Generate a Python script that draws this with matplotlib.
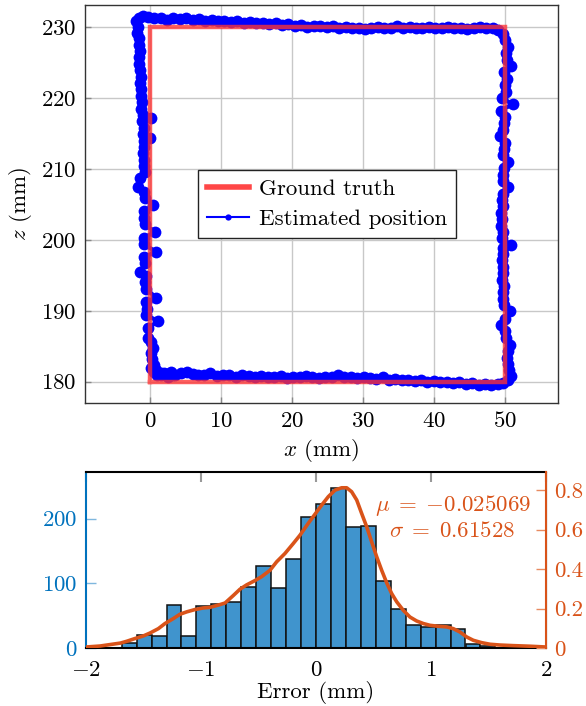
import numpy as np
import matplotlib
matplotlib.use("Agg")
import matplotlib.pyplot as plt

plt.rcParams['font.family'] = 'serif'
plt.rcParams['font.serif'] = ['cmr10']
plt.rcParams['mathtext.fontset'] = 'cm'
plt.rcParams['axes.formatter.use_mathtext'] = True
plt.rcParams['font.size'] = 16.5

# ---------------- data ----------------
gt_x = [0, 50, 50, 0, 0]
gt_z = [180, 180, 230, 230, 180]

bottom_x = [0.2, 0.6, 1.0, 1.6, 2.2, 2.9, 3.6, 4.4, 5.2, 6.0, 6.8, 7.6, 8.5, 9.4, 10.3, 11.2, 12.1, 13.0, 13.9, 14.8,
            15.7, 16.6, 17.5, 18.4, 19.3, 20.2, 21.1, 22.0, 22.9, 23.8, 24.7, 25.6, 26.5, 27.4, 28.3, 29.2, 30.1, 31.0, 31.9, 32.8,
            33.7, 34.6, 35.5, 36.4, 37.3, 38.2, 39.1, 40.0, 40.9, 41.8, 42.7, 43.6, 44.5, 45.4, 46.3, 47.2, 48.1, 49.0, 49.8, 50.5]
bottom_z = [181.9, 181.4, 181.0, 181.2, 181.1, 181.3, 181.0, 181.2, 181.4, 181.1, 181.0, 180.9, 181.2, 180.8, 181.0, 180.9, 180.7, 180.9, 180.8, 180.6,
            180.8, 180.7, 180.6, 180.8, 180.5, 180.7, 180.6, 180.8, 180.6, 180.5, 180.7, 180.6, 180.9, 180.7, 180.6, 180.5, 180.7, 180.5, 180.4, 180.6,
            180.3, 180.4, 180.2, 180.3, 180.1, 180.2, 180.0, 180.1, 179.9, 180.0, 179.8, 179.9, 179.7, 179.8, 179.6, 179.7, 179.6, 179.7, 179.8, 180.2]

right_x = [50.9, 50.6, 50.5, 50.3, 50.4, 50.7, 50.2, 50.1, 49.4, 50.0, 50.7, 49.9, 49.8, 49.7, 49.9, 49.6, 49.7, 49.8, 49.6, 49.7,
           49.8, 50.9, 49.6, 49.7, 49.5, 49.6, 49.5, 49.7, 49.6, 49.8, 50.4, 49.7, 49.8, 49.9, 50.4, 49.8, 49.9, 50.0, 49.3, 49.8,
           49.9, 50.0, 49.4, 51.1, 49.6, 50.2, 50.0, 50.3, 49.9, 50.9, 50.3, 50.2, 50.4, 50.0, 49.7, 49.0]
right_z = [180.8, 181.6, 182.5, 183.4, 184.3, 185.2, 186.2, 187.1, 188.0, 188.9, 189.9, 190.8, 191.7, 192.6, 193.5, 194.4, 195.3, 196.2, 197.1, 198.0,
           198.9, 199.3, 200.2, 201.1, 202.0, 202.9, 203.8, 204.7, 205.6, 206.5, 207.4, 208.3, 209.2, 210.1, 211.0, 211.9, 212.8, 213.7, 214.6, 215.5,
           216.4, 217.3, 218.2, 219.1, 220.0, 220.9, 221.8, 222.7, 223.6, 224.5, 225.4, 226.3, 227.2, 228.1, 229.0, 229.6]

top_x = [48.3, 47.4, 46.5, 45.6, 44.7, 43.8, 42.9, 42.0, 41.1, 40.2, 39.3, 38.4, 37.5, 36.6, 35.7, 34.8, 33.9, 33.0, 32.1, 31.2,
         30.3, 29.4, 28.5, 27.6, 26.7, 25.8, 24.9, 24.0, 23.1, 22.2, 21.3, 20.4, 19.5, 18.6, 17.7, 16.8, 15.9, 15.0, 14.1, 13.2,
         12.3, 11.4, 10.5, 9.6, 8.7, 7.8, 6.9, 6.0, 5.1, 4.2, 3.3, 2.4, 1.5, 0.6, -0.3, -1.0, -1.6]
top_z = [229.9, 229.8, 230.0, 229.8, 229.7, 229.9, 229.8, 230.0, 229.9, 229.8, 230.0, 229.9, 229.8, 230.0, 229.9, 230.1, 229.9, 229.8, 230.0, 229.9,
         229.7, 229.9, 229.8, 230.0, 229.9, 230.1, 230.0, 230.1, 230.2, 230.0, 230.3, 230.2, 230.4, 230.3, 230.5, 230.4, 230.6, 230.5, 230.7, 230.6,
         230.8, 230.7, 230.9, 230.8, 231.0, 230.9, 231.1, 231.0, 231.2, 231.1, 231.2, 231.0, 231.3, 231.2, 231.4, 231.5, 231.3]

left_x = [-1.9, -1.7, -1.8, -1.5, -1.6, -1.4, -1.6, -1.5, -1.4, -1.3, -1.4, -1.2, -1.3, -1.1, -1.2, -1.0, 0.1, -1.1, -0.9, -1.0,
          0.0, -0.8, -0.9, -1.0, -0.8, -0.9, -0.7, -1.4, -1.7, -0.8, -0.7, 0.5, -0.9, -0.8, -0.7, 0.7, -0.8, -0.9, 0.9, -0.8,
          -0.7, -1.4, -0.6, -0.7, -0.5, 0.9, -0.6, -0.4, -0.5, 1.2, -0.3, -0.3, 0.2, 0.5, 0.1, 0.3, 0.6, 0.9, 1.5, 2.5,
          3.2, 2.0]
left_z = [230.8, 230.0, 229.2, 228.4, 227.5, 226.6, 225.7, 224.8, 223.9, 223.0, 222.1, 221.2, 220.3, 219.4, 218.5, 217.6, 217.2, 216.7, 215.8, 214.9,
          214.4, 214.0, 213.1, 212.2, 211.3, 210.4, 209.5, 208.7, 207.5, 206.8, 205.9, 204.9, 204.0, 203.1, 202.2, 201.1, 200.3, 199.4, 198.3, 197.6,
          196.7, 195.5, 194.9, 194.0, 193.1, 191.8, 191.2, 190.3, 189.4, 188.5, 187.6, 186.2, 185.6, 184.8, 184.0, 183.2, 182.4, 181.6, 181.0, 180.7,
          180.9, 181.2]

est_x = bottom_x + right_x + top_x + left_x
est_z = bottom_z + right_z + top_z + left_z

# histogram of the error
bin_width = 0.13
bin_left = [-1.69, -1.56, -1.43, -1.30, -1.17, -1.04, -0.91, -0.78, -0.65, -0.52, -0.39, -0.26, -0.13,
            0.00, 0.13, 0.26, 0.39, 0.52, 0.65, 0.78, 0.91, 1.04, 1.17, 1.30, 1.43]
counts = [7, 20, 19, 66, 18, 65, 68, 71, 94, 126, 93, 138, 202,
          223, 248, 187, 188, 104, 61, 35, 33, 36, 30, 6, 3]

kde_x = [-2.0, -1.878, -1.70, -1.646, -1.574, -1.502, -1.443, -1.371, -1.313, -1.241, -1.183, -1.125, -1.052,
         -0.98, -0.922, -0.835, -0.791, -0.719, -0.661, -0.603, -0.53, -0.472, -0.4, -0.342, -0.27, -0.197,
         -0.139, -0.067, -0.009, 0.049, 0.107, 0.165, 0.223, 0.267, 0.31, 0.354, 0.397, 0.441, 0.484, 0.528,
         0.571, 0.615, 0.658, 0.702, 0.759, 0.817, 0.875, 0.933, 0.991, 1.064, 1.136, 1.194, 1.252, 1.31,
         1.368, 1.441, 1.513, 1.6, 1.716, 1.861, 2.0]
kde_y = [0.005, 0.010, 0.025, 0.034, 0.048, 0.061, 0.076, 0.098, 0.124, 0.149, 0.171, 0.183, 0.195,
         0.203, 0.206, 0.220, 0.228, 0.266, 0.298, 0.320, 0.342, 0.362, 0.394, 0.437, 0.479, 0.530,
         0.572, 0.632, 0.678, 0.724, 0.767, 0.800, 0.812, 0.812, 0.792, 0.750, 0.682, 0.614, 0.538, 0.462,
         0.394, 0.330, 0.276, 0.234, 0.191, 0.157, 0.137, 0.124, 0.115, 0.110, 0.107, 0.098, 0.081, 0.056,
         0.039, 0.027, 0.019, 0.015, 0.012, 0.009, 0.005]

mu_text = r"$\mu\;=\;{-}0.025069$"
sigma_text = r"$\sigma\;=\;0.61528$"

# ---------------- figure ----------------
W, H = 586, 706
fig = plt.figure(figsize=(W / 100, H / 100), dpi=100)

blue_c = '#0072BD'
orange_c = '#D95319'
grid_c = '#c8c8c8'
spine_c = '#333333'

# top axes
ax = fig.add_axes([85 / W, 1 - 403 / H, (558 - 85) / W, (403 - 5) / H])
ax.plot(est_x, est_z, '-o', color='blue', lw=3.0, ms=8.5, markeredgewidth=0, label='Estimated position', zorder=3)
ax.plot(gt_x, gt_z, '-', color=(1.0, 0.2, 0.2), alpha=0.78, lw=3.2, label='Ground truth', zorder=4,
        solid_joinstyle='miter')
ax.set_xlim(-9.15, 57.5)
ax.set_ylim(177.0, 233.1)
ax.set_xticks([0, 10, 20, 30, 40, 50])
ax.set_yticks([180, 190, 200, 210, 220, 230])
ax.grid(True, color=grid_c, lw=1.0)
ax.set_axisbelow(True)
ax.tick_params(direction='in', color='#888888', length=4, width=1, pad=6)
for s in ax.spines.values():
    s.set_color(spine_c)
    s.set_linewidth(1.0)
ax.set_xlabel(r'$x$ (mm)', labelpad=4)
ax.set_ylabel(r'$z$ (mm)', labelpad=5)
handles, labels = ax.get_legend_handles_labels()
leg = ax.legend(handles[::-1], labels[::-1], loc='center', bbox_to_anchor=(0.512, 0.5),
                fancybox=False, framealpha=1, edgecolor='#222222', handlelength=1.8,
                borderpad=0.4, labelspacing=0.4, handletextpad=0.45, borderaxespad=0)
leg.get_frame().set_linewidth(1.0)
leg.legend_handles[1].set_markersize(4.5)
leg.legend_handles[1].set_linewidth(1.5)
leg.legend_handles[0].set_alpha(0.9)
leg.legend_handles[0].set_linewidth(4)

# bottom axes
bx = fig.add_axes([86 / W, 1 - 648 / H, (546 - 86) / W, (648 - 472) / H])
bx.bar(bin_left, counts, width=bin_width, align='edge', color='#4094CD', edgecolor='#111111', lw=1.1, zorder=2)
bx.set_xlim(-2, 2)
bx.set_ylim(0, 272)
bx.set_xticks([-2, -1, 0, 1, 2])
bx.set_yticks([0, 100, 200])
bx.tick_params(axis='y', colors=blue_c, direction='in', length=7, width=1, color='#7fb7de', pad=6)
bx.tick_params(axis='x', direction='in', length=7, width=1.5, color='#999999', top=True, bottom=False, pad=9)
bx.spines['left'].set_color(blue_c)
bx.spines['left'].set_linewidth(1.5)
bx.spines['top'].set_color('black')
bx.spines['top'].set_linewidth(1.5)
bx.spines['bottom'].set_color('black')
bx.spines['bottom'].set_linewidth(1.5)
bx.set_xlabel('Error (mm)', labelpad=1)

bx2 = bx.twinx()
bx2.plot(kde_x, kde_y, '-', color=orange_c, lw=2.6, zorder=5, solid_capstyle='round', solid_joinstyle='round')
bx2.set_ylim(0, 0.892)
bx2.set_yticks([0, 0.2, 0.4, 0.6, 0.8])
bx2.set_yticklabels(['0', '0.2', '0.4', '0.6', '0.8'])
bx2.tick_params(axis='y', colors=orange_c, direction='in', length=7, width=1, color='#e88a60', pad=6)
bx2.spines['right'].set_color(orange_c)
bx2.spines['right'].set_linewidth(1.5)
bx2.spines['left'].set_visible(False)
bx2.spines['top'].set_visible(False)
bx2.spines['bottom'].set_visible(False)
bx2.text(0.797, 0.745, mu_text + "\n" + sigma_text, transform=bx2.transAxes, ha='center', va='center',
         color=orange_c, fontsize=16.5, linespacing=1.15)

fig.savefig('out.png', dpi=100)
